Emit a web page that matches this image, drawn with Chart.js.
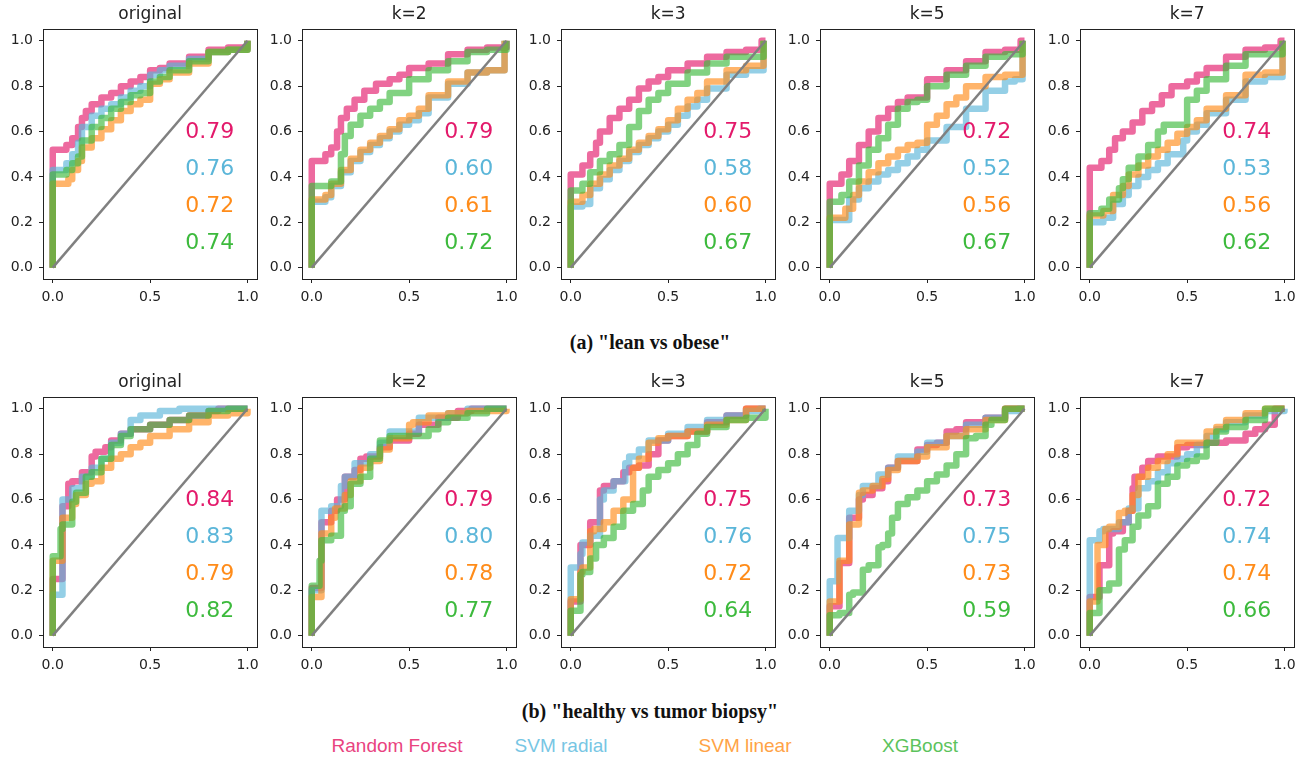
<!DOCTYPE html>
<html>
<head>
<meta charset="utf-8">
<title>ROC curves</title>
<script src="https://cdn.jsdelivr.net/npm/chart.js@4/dist/chart.umd.min.js"></script>
<style>
  body { margin: 0; background: #fff; }
  #page { position: relative; width: 1307px; height: 763px; overflow: hidden; }
  #page canvas { position: absolute; }
  .caption {
    position: absolute; left: 0; width: 1300px; text-align: center;
    font-family: "Liberation Serif", serif; font-weight: bold; font-size: 20px;
    line-height: 24px; color: #111;
  }
  .legend-item {
    position: absolute; top: 735px; transform: translateX(-50%);
    font-family: "Liberation Sans", Arial, sans-serif; font-size: 19px; line-height: 22px;
    white-space: nowrap;
  }
</style>
</head>
<body>
<div id="page">
  <div class="caption" style="top:330px">(a) "lean vs obese"</div>
  <div class="caption" style="top:699px">(b) "healthy vs tumor biopsy"</div>
</div>
<script>
// ---- labels ----
const panelTitles = ['original', 'k=2', 'k=3', 'k=5', 'k=7'];
const seriesNames = ['Random Forest', 'SVM radial', 'SVM linear', 'XGBoost'];
const xTicks = [0, 0.5, 1];
const yTicks = [0, 0.2, 0.4, 0.6, 0.8, 1];
const chanceLine = [[0, 0], [1, 1]];

// ---- AUC values, order: RF, SVM radial, SVM linear, XGBoost ----
const aucLeanOrig = [0.79, 0.76, 0.72, 0.74];
const aucLeanK2 = [0.79, 0.60, 0.61, 0.72];
const aucLeanK3 = [0.75, 0.58, 0.60, 0.67];
const aucLeanK5 = [0.72, 0.52, 0.56, 0.67];
const aucLeanK7 = [0.74, 0.53, 0.56, 0.62];
const aucHealthyOrig = [0.84, 0.83, 0.79, 0.82];
const aucHealthyK2 = [0.79, 0.80, 0.78, 0.77];
const aucHealthyK3 = [0.75, 0.76, 0.72, 0.64];
const aucHealthyK5 = [0.73, 0.75, 0.73, 0.59];
const aucHealthyK7 = [0.72, 0.74, 0.74, 0.66];

// ---- ROC points [fpr, tpr], lean vs obese ----
const leanOrigRF = [[0,0],[0,0.52],[0.07,0.52],[0.1,0.54],[0.13,0.57],[0.15,0.62],[0.17,0.66],[0.2,0.69],[0.25,0.72],[0.3,0.75],[0.35,0.77],[0.4,0.8],[0.45,0.82],[0.5,0.84],[0.5,0.86],[0.55,0.87],[0.6,0.88],[0.7,0.9],[0.8,0.93],[0.9,0.96],[1,0.97],[1,1]];
const leanOrigSVMr = [[0,0],[0,0.43],[0.07,0.43],[0.1,0.46],[0.13,0.5],[0.15,0.55],[0.2,0.62],[0.25,0.67],[0.3,0.7],[0.35,0.72],[0.4,0.75],[0.45,0.78],[0.5,0.8],[0.5,0.83],[0.55,0.85],[0.6,0.87],[0.7,0.89],[0.8,0.92],[0.9,0.95],[1,0.96],[1,1]];
const leanOrigSVMl = [[0,0],[0,0.37],[0.08,0.37],[0.1,0.39],[0.13,0.43],[0.15,0.47],[0.2,0.53],[0.25,0.57],[0.3,0.61],[0.35,0.65],[0.4,0.69],[0.45,0.72],[0.5,0.74],[0.5,0.79],[0.55,0.81],[0.6,0.83],[0.7,0.86],[0.8,0.9],[0.9,0.95],[1,0.96],[1,1]];
const leanOrigXGB = [[0,0],[0,0.41],[0.07,0.41],[0.1,0.43],[0.13,0.46],[0.15,0.49],[0.2,0.56],[0.25,0.62],[0.3,0.66],[0.35,0.7],[0.4,0.73],[0.45,0.76],[0.5,0.77],[0.5,0.81],[0.55,0.82],[0.6,0.84],[0.7,0.87],[0.8,0.91],[0.9,0.95],[1,0.96],[1,1]];

const leanK2RF = [[0,0],[0,0.47],[0.07,0.47],[0.1,0.5],[0.13,0.53],[0.15,0.6],[0.18,0.66],[0.22,0.7],[0.27,0.74],[0.33,0.78],[0.4,0.81],[0.45,0.83],[0.5,0.85],[0.6,0.88],[0.7,0.9],[0.8,0.94],[0.9,0.96],[1,0.97],[1,1]];
const leanK2SVMr = [[0,0],[0,0.29],[0.07,0.29],[0.1,0.31],[0.15,0.36],[0.2,0.42],[0.25,0.47],[0.3,0.51],[0.35,0.54],[0.4,0.57],[0.45,0.6],[0.5,0.63],[0.55,0.65],[0.6,0.68],[0.7,0.75],[0.8,0.81],[0.9,0.86],[0.99,0.87],[0.99,1]];
const leanK2SVMl = [[0,0],[0,0.3],[0.07,0.3],[0.1,0.32],[0.15,0.37],[0.2,0.43],[0.25,0.48],[0.3,0.52],[0.35,0.55],[0.4,0.58],[0.45,0.61],[0.5,0.65],[0.55,0.67],[0.6,0.7],[0.7,0.76],[0.8,0.82],[0.9,0.86],[0.99,0.87],[0.99,1]];
const leanK2XGB = [[0,0],[0,0.36],[0.1,0.36],[0.15,0.38],[0.17,0.5],[0.2,0.58],[0.25,0.63],[0.3,0.67],[0.35,0.7],[0.4,0.73],[0.5,0.77],[0.6,0.83],[0.7,0.87],[0.8,0.91],[0.9,0.95],[1,0.96],[1,1]];

const leanK3RF = [[0,0],[0,0.41],[0.06,0.41],[0.1,0.45],[0.13,0.5],[0.15,0.55],[0.2,0.6],[0.25,0.66],[0.3,0.7],[0.35,0.74],[0.4,0.79],[0.45,0.82],[0.5,0.84],[0.6,0.87],[0.7,0.9],[0.8,0.93],[0.9,0.95],[0.98,0.96],[1,1]];
const leanK3SVMr = [[0,0],[0,0.27],[0.06,0.27],[0.1,0.28],[0.15,0.35],[0.2,0.39],[0.25,0.43],[0.3,0.47],[0.35,0.51],[0.4,0.54],[0.45,0.57],[0.5,0.6],[0.55,0.63],[0.6,0.67],[0.65,0.71],[0.7,0.74],[0.8,0.79],[0.9,0.85],[0.99,0.87],[0.99,1]];
const leanK3SVMl = [[0,0],[0,0.29],[0.06,0.29],[0.1,0.32],[0.15,0.37],[0.2,0.41],[0.25,0.45],[0.3,0.48],[0.35,0.52],[0.4,0.55],[0.45,0.58],[0.5,0.61],[0.55,0.65],[0.6,0.7],[0.65,0.74],[0.7,0.77],[0.8,0.82],[0.9,0.87],[0.99,0.89],[0.99,1]];
const leanK3XGB = [[0,0],[0,0.34],[0.06,0.34],[0.1,0.37],[0.15,0.42],[0.2,0.47],[0.25,0.5],[0.3,0.54],[0.35,0.62],[0.4,0.69],[0.45,0.74],[0.5,0.77],[0.6,0.81],[0.7,0.86],[0.8,0.9],[0.9,0.93],[0.99,0.93],[0.99,1]];

const leanK5RF = [[0,0],[0,0.37],[0.06,0.37],[0.1,0.41],[0.15,0.47],[0.2,0.54],[0.25,0.6],[0.3,0.66],[0.35,0.7],[0.4,0.73],[0.45,0.75],[0.5,0.75],[0.5,0.79],[0.6,0.83],[0.7,0.87],[0.8,0.91],[0.9,0.95],[0.98,0.96],[1,1]];
const leanK5SVMr = [[0,0],[0,0.21],[0.1,0.21],[0.15,0.3],[0.2,0.35],[0.25,0.38],[0.3,0.41],[0.35,0.43],[0.4,0.46],[0.45,0.49],[0.5,0.52],[0.6,0.56],[0.7,0.62],[0.8,0.7],[0.9,0.78],[0.95,0.82],[0.99,0.83],[0.99,1]];
const leanK5SVMl = [[0,0],[0,0.22],[0.08,0.22],[0.12,0.26],[0.15,0.32],[0.2,0.38],[0.25,0.42],[0.3,0.46],[0.35,0.49],[0.4,0.52],[0.45,0.54],[0.5,0.55],[0.5,0.6],[0.55,0.63],[0.6,0.67],[0.65,0.72],[0.7,0.75],[0.8,0.8],[0.9,0.84],[0.99,0.85],[0.99,1]];
const leanK5XGB = [[0,0],[0,0.29],[0.06,0.29],[0.1,0.32],[0.15,0.38],[0.2,0.45],[0.25,0.52],[0.3,0.57],[0.35,0.63],[0.4,0.7],[0.45,0.73],[0.5,0.74],[0.5,0.77],[0.6,0.8],[0.7,0.85],[0.8,0.89],[0.9,0.93],[0.99,0.94],[0.99,1]];

const leanK7RF = [[0,0],[0,0.44],[0.06,0.44],[0.1,0.47],[0.13,0.52],[0.17,0.57],[0.22,0.6],[0.27,0.64],[0.32,0.69],[0.37,0.72],[0.42,0.76],[0.5,0.8],[0.55,0.82],[0.6,0.85],[0.7,0.88],[0.8,0.93],[0.9,0.96],[0.98,0.97],[1,1]];
const leanK7SVMr = [[0,0],[0,0.2],[0.07,0.2],[0.12,0.22],[0.17,0.28],[0.2,0.32],[0.25,0.36],[0.3,0.4],[0.35,0.43],[0.4,0.46],[0.48,0.5],[0.5,0.56],[0.55,0.6],[0.6,0.63],[0.7,0.68],[0.8,0.74],[0.9,0.82],[0.99,0.84],[0.99,1]];
const leanK7SVMl = [[0,0],[0,0.23],[0.07,0.23],[0.12,0.25],[0.17,0.32],[0.2,0.36],[0.25,0.41],[0.3,0.45],[0.35,0.49],[0.4,0.52],[0.45,0.55],[0.5,0.59],[0.55,0.62],[0.6,0.65],[0.7,0.7],[0.8,0.76],[0.9,0.85],[0.99,0.86],[0.99,1]];
const leanK7XGB = [[0,0],[0,0.24],[0.06,0.24],[0.1,0.26],[0.15,0.3],[0.17,0.35],[0.2,0.39],[0.25,0.44],[0.3,0.49],[0.35,0.54],[0.38,0.6],[0.45,0.63],[0.5,0.63],[0.5,0.7],[0.55,0.74],[0.6,0.78],[0.7,0.83],[0.8,0.89],[0.9,0.94],[0.99,0.94],[0.99,1]];

// ---- ROC points [fpr, tpr], healthy vs tumor biopsy ----
const healthyOrigRF = [[0,0],[0,0.25],[0.05,0.25],[0.05,0.54],[0.08,0.57],[0.1,0.67],[0.15,0.68],[0.2,0.72],[0.22,0.79],[0.27,0.81],[0.3,0.83],[0.35,0.86],[0.4,0.89],[0.5,0.91],[0.6,0.93],[0.7,0.95],[0.8,0.97],[0.85,0.99],[1,1]];
const healthyOrigSVMr = [[0,0],[0,0.18],[0.05,0.18],[0.05,0.5],[0.1,0.6],[0.15,0.65],[0.2,0.7],[0.25,0.74],[0.3,0.78],[0.35,0.85],[0.4,0.89],[0.45,0.95],[0.55,0.97],[0.65,0.99],[1,1]];
const healthyOrigSVMl = [[0,0],[0,0.33],[0.05,0.33],[0.05,0.48],[0.1,0.52],[0.12,0.58],[0.17,0.62],[0.2,0.67],[0.25,0.68],[0.3,0.74],[0.35,0.78],[0.4,0.8],[0.45,0.83],[0.5,0.85],[0.6,0.88],[0.7,0.91],[0.8,0.94],[0.9,0.97],[1,0.98],[1,1]];
const healthyOrigXGB = [[0,0],[0,0.35],[0.04,0.35],[0.05,0.47],[0.1,0.49],[0.12,0.59],[0.17,0.63],[0.2,0.7],[0.25,0.72],[0.3,0.78],[0.35,0.84],[0.4,0.88],[0.5,0.91],[0.6,0.93],[0.7,0.95],[0.8,0.97],[0.9,0.99],[1,1]];

const healthyK2RF = [[0,0],[0,0.21],[0.05,0.21],[0.05,0.4],[0.1,0.5],[0.13,0.55],[0.17,0.6],[0.17,0.68],[0.22,0.7],[0.25,0.73],[0.28,0.78],[0.35,0.79],[0.4,0.83],[0.5,0.86],[0.55,0.89],[0.65,0.93],[0.75,0.96],[0.82,0.99],[1,1]];
const healthyK2SVMr = [[0,0],[0,0.2],[0.05,0.2],[0.05,0.48],[0.1,0.55],[0.15,0.57],[0.17,0.66],[0.22,0.7],[0.3,0.76],[0.35,0.8],[0.4,0.85],[0.47,0.9],[0.55,0.9],[0.7,0.96],[0.8,0.98],[1,1]];
const healthyK2SVMl = [[0,0],[0,0.17],[0.05,0.17],[0.05,0.36],[0.1,0.45],[0.12,0.52],[0.17,0.56],[0.2,0.62],[0.25,0.68],[0.3,0.74],[0.35,0.77],[0.4,0.82],[0.5,0.87],[0.52,0.93],[0.6,0.94],[0.7,0.97],[0.8,0.98],[1,0.99],[1,1]];
const healthyK2XGB = [[0,0],[0,0.22],[0.04,0.22],[0.05,0.33],[0.1,0.42],[0.15,0.44],[0.17,0.55],[0.2,0.57],[0.25,0.67],[0.3,0.7],[0.35,0.78],[0.4,0.86],[0.5,0.88],[0.6,0.88],[0.65,0.91],[0.7,0.94],[0.8,0.96],[0.9,0.98],[1,1]];

const healthyK3RF = [[0,0],[0,0.15],[0.05,0.15],[0.05,0.39],[0.1,0.4],[0.1,0.5],[0.15,0.5],[0.17,0.64],[0.22,0.66],[0.27,0.68],[0.3,0.72],[0.35,0.74],[0.4,0.75],[0.45,0.8],[0.5,0.86],[0.6,0.88],[0.7,0.9],[0.8,0.94],[0.9,0.97],[1,1]];
const healthyK3SVMr = [[0,0],[0,0.3],[0.05,0.3],[0.06,0.36],[0.1,0.41],[0.15,0.44],[0.17,0.6],[0.22,0.64],[0.28,0.68],[0.3,0.76],[0.35,0.79],[0.4,0.82],[0.5,0.86],[0.6,0.89],[0.7,0.92],[0.8,0.95],[0.9,0.97],[0.97,0.99],[1,1]];
const healthyK3SVMl = [[0,0],[0,0.16],[0.05,0.16],[0.06,0.28],[0.1,0.3],[0.12,0.46],[0.17,0.47],[0.22,0.5],[0.27,0.55],[0.32,0.6],[0.35,0.74],[0.4,0.78],[0.45,0.85],[0.5,0.87],[0.6,0.88],[0.7,0.9],[0.8,0.93],[0.9,0.95],[1,1]];
const healthyK3XGB = [[0,0],[0,0.11],[0.05,0.11],[0.06,0.27],[0.1,0.28],[0.13,0.34],[0.17,0.4],[0.22,0.43],[0.27,0.48],[0.32,0.55],[0.37,0.58],[0.4,0.64],[0.45,0.7],[0.5,0.73],[0.55,0.76],[0.6,0.8],[0.65,0.84],[0.7,0.89],[0.8,0.92],[0.9,0.95],[1,0.96],[1,1]];

const healthyK5RF = [[0,0],[0,0.13],[0.05,0.13],[0.05,0.32],[0.1,0.32],[0.11,0.52],[0.15,0.52],[0.17,0.6],[0.22,0.62],[0.27,0.65],[0.3,0.68],[0.35,0.74],[0.45,0.77],[0.5,0.82],[0.55,0.84],[0.6,0.85],[0.65,0.9],[0.7,0.91],[0.8,0.94],[0.9,0.96],[1,1]];
const healthyK5SVMr = [[0,0],[0,0.24],[0.04,0.24],[0.05,0.43],[0.1,0.43],[0.11,0.55],[0.15,0.55],[0.17,0.62],[0.25,0.66],[0.3,0.71],[0.35,0.74],[0.45,0.79],[0.5,0.81],[0.6,0.85],[0.7,0.88],[0.8,0.93],[0.9,0.96],[0.97,0.99],[1,1]];
const healthyK5SVMl = [[0,0],[0,0.15],[0.05,0.15],[0.05,0.33],[0.1,0.33],[0.11,0.49],[0.15,0.49],[0.17,0.63],[0.22,0.64],[0.27,0.66],[0.3,0.69],[0.35,0.73],[0.45,0.77],[0.5,0.79],[0.6,0.83],[0.7,0.88],[0.8,0.91],[0.9,0.95],[1,1]];
const healthyK5XGB = [[0,0],[0,0.09],[0.05,0.09],[0.1,0.1],[0.12,0.18],[0.17,0.19],[0.2,0.29],[0.25,0.31],[0.27,0.39],[0.3,0.4],[0.32,0.45],[0.35,0.52],[0.4,0.58],[0.45,0.61],[0.5,0.64],[0.55,0.68],[0.6,0.71],[0.65,0.75],[0.7,0.8],[0.75,0.87],[0.8,0.88],[0.83,0.93],[0.9,0.95],[1,1]];

const healthyK7RF = [[0,0],[0,0.17],[0.05,0.17],[0.06,0.31],[0.1,0.31],[0.12,0.45],[0.17,0.46],[0.2,0.5],[0.22,0.55],[0.23,0.65],[0.27,0.7],[0.3,0.74],[0.35,0.77],[0.45,0.79],[0.5,0.83],[0.6,0.84],[0.7,0.85],[0.8,0.86],[0.85,0.89],[0.9,0.91],[0.95,0.93],[1,1]];
const healthyK7SVMr = [[0,0],[0,0.42],[0.05,0.42],[0.07,0.46],[0.15,0.47],[0.2,0.5],[0.25,0.56],[0.3,0.65],[0.35,0.68],[0.4,0.72],[0.45,0.76],[0.5,0.78],[0.55,0.8],[0.6,0.84],[0.65,0.88],[0.7,0.91],[0.8,0.94],[0.9,0.97],[1,0.99],[1,1]];
const healthyK7SVMl = [[0,0],[0,0.15],[0.04,0.15],[0.05,0.4],[0.08,0.4],[0.1,0.47],[0.15,0.48],[0.18,0.54],[0.22,0.55],[0.25,0.62],[0.3,0.7],[0.35,0.74],[0.4,0.77],[0.45,0.8],[0.5,0.85],[0.6,0.85],[0.65,0.9],[0.7,0.92],[0.8,0.95],[0.9,0.98],[1,1]];
const healthyK7XGB = [[0,0],[0,0.1],[0.05,0.1],[0.06,0.2],[0.1,0.2],[0.15,0.23],[0.18,0.38],[0.22,0.42],[0.25,0.48],[0.3,0.53],[0.35,0.57],[0.4,0.67],[0.45,0.7],[0.5,0.75],[0.55,0.77],[0.6,0.79],[0.65,0.85],[0.7,0.9],[0.8,0.92],[0.9,0.95],[1,1]];

// ---- styling ----
const textColors = ['#e31a6b', '#5bb6d9', '#ff8c1a', '#3dba3d'];
const lineColors = ['rgba(227,26,107,0.65)', 'rgba(91,182,217,0.65)', 'rgba(255,140,26,0.65)', 'rgba(61,186,61,0.65)'];
const legendColors = ['#e9437f', '#77c6e4', '#ffa346', '#5cc35c'];
const legendCenters = [397, 561, 745, 920];

// plot box geometry (pixels on the page)
const boxLeft0 = 42.5, boxStep = 259.25, boxW = 215.6, boxH = 249.7;
const rowTops = [29.7, 397.7];
const yAxisW = 42, xAxisH = 28, padRight = 6;
const titlePad = { top: 3, bottom: 5 };
const titleSize = 17;
const titleH = titlePad.top + titleSize * 1.2 + titlePad.bottom;

const panels = [
  { row: 0, curves: [leanOrigRF, leanOrigSVMr, leanOrigSVMl, leanOrigXGB], auc: aucLeanOrig },
  { row: 0, curves: [leanK2RF, leanK2SVMr, leanK2SVMl, leanK2XGB], auc: aucLeanK2 },
  { row: 0, curves: [leanK3RF, leanK3SVMr, leanK3SVMl, leanK3XGB], auc: aucLeanK3 },
  { row: 0, curves: [leanK5RF, leanK5SVMr, leanK5SVMl, leanK5XGB], auc: aucLeanK5 },
  { row: 0, curves: [leanK7RF, leanK7SVMr, leanK7SVMl, leanK7XGB], auc: aucLeanK7 },
  { row: 1, curves: [healthyOrigRF, healthyOrigSVMr, healthyOrigSVMl, healthyOrigXGB], auc: aucHealthyOrig },
  { row: 1, curves: [healthyK2RF, healthyK2SVMr, healthyK2SVMl, healthyK2XGB], auc: aucHealthyK2 },
  { row: 1, curves: [healthyK3RF, healthyK3SVMr, healthyK3SVMl, healthyK3XGB], auc: aucHealthyK3 },
  { row: 1, curves: [healthyK5RF, healthyK5SVMr, healthyK5SVMl, healthyK5XGB], auc: aucHealthyK5 },
  { row: 1, curves: [healthyK7RF, healthyK7SVMr, healthyK7SVMl, healthyK7XGB], auc: aucHealthyK7 },
];

Chart.defaults.font.family = '"DejaVu Sans", sans-serif';
Chart.defaults.color = '#222';

// Black frame around the plotting area (all four spines)
const framePlugin = {
  id: 'frame',
  afterDraw(chart) {
    const { ctx, chartArea: a } = chart;
    ctx.save();
    ctx.strokeStyle = '#222';
    ctx.lineWidth = 1;
    ctx.strokeRect(Math.round(a.left) + 0.5, Math.round(a.top) + 0.5,
      Math.round(a.right - a.left), Math.round(a.bottom - a.top));
    ctx.restore();
  }
};

// AUC numbers stacked on the right side of each plot
const aucPlugin = {
  id: 'aucLabels',
  afterDatasetsDraw(chart, args, opts) {
    const { ctx, scales } = chart;
    const rows = [0.595, 0.433, 0.271, 0.109];
    ctx.save();
    ctx.font = '22px "DejaVu Sans", sans-serif';
    ctx.textAlign = 'left';
    ctx.textBaseline = 'middle';
    opts.values.forEach((v, i) => {
      ctx.fillStyle = textColors[i];
      ctx.fillText(v.toFixed(2), scales.x.getPixelForValue(0.68), scales.y.getPixelForValue(rows[i]));
    });
    ctx.restore();
  }
};

const toXY = pts => pts.map(([x, y]) => ({ x, y }));

function axisTicks(values) {
  return axis => { axis.ticks = values.map(v => ({ value: v })); };
}

const page = document.getElementById('page');

panels.forEach((p, idx) => {
  const col = idx % 5;
  const boxLeft = boxLeft0 + col * boxStep;
  const canvas = document.createElement('canvas');
  const w = Math.round(yAxisW + boxW + padRight);
  const h = Math.round(titleH + boxH + xAxisH);
  canvas.width = w;
  canvas.height = h;
  canvas.style.left = Math.round(boxLeft - yAxisW) + 'px';
  canvas.style.top = Math.round(rowTops[p.row] - titleH) + 'px';
  page.appendChild(canvas);

  const datasets = p.curves.map((pts, i) => ({
    label: seriesNames[i],
    data: toXY(pts),
    borderColor: lineColors[i],
    borderWidth: 6.5,
    borderJoinStyle: 'round',
    stepped: 'after',
    pointRadius: 0,
    fill: false,
    order: 4 - i,
  }));
  datasets.push({
    label: 'chance',
    data: toXY(chanceLine),
    borderColor: '#808080',
    borderWidth: 2.5,
    pointRadius: 0,
    fill: false,
    order: 0,
  });

  new Chart(canvas, {
    type: 'line',
    data: { datasets },
    options: {
      responsive: false,
      animation: false,
      layout: { padding: { left: 0, right: padRight, top: 0, bottom: 0 } },
      scales: {
        x: {
          type: 'linear',
          min: -0.05,
          max: 1.05,
          afterBuildTicks: axisTicks(xTicks),
          afterFit: s => { s.height = xAxisH; },
          grid: { drawOnChartArea: false, drawTicks: true, tickLength: 4, color: '#222' },
          border: { display: false },
          ticks: { padding: 6, font: { size: 14 }, color: '#222', maxRotation: 0,
            callback: v => v.toFixed(1) },
        },
        y: {
          type: 'linear',
          min: -0.05,
          max: 1.05,
          afterBuildTicks: axisTicks(yTicks),
          afterFit: s => { s.width = yAxisW; },
          grid: { drawOnChartArea: false, drawTicks: true, tickLength: 4, color: '#222' },
          border: { display: false },
          ticks: { padding: 6, font: { size: 14 }, color: '#222',
            callback: v => v.toFixed(1) },
        },
      },
      plugins: {
        legend: { display: false },
        tooltip: { enabled: false },
        title: {
          display: true,
          fullSize: false,
          text: panelTitles[col],
          color: '#222',
          font: { size: titleSize, weight: 'normal' },
          padding: titlePad,
        },
        aucLabels: { values: p.auc },
      },
    },
    plugins: [framePlugin, aucPlugin],
  });
});

// Shared legend under both rows
seriesNames.forEach((name, i) => {
  const item = document.createElement('div');
  item.className = 'legend-item';
  item.style.left = legendCenters[i] + 'px';
  item.style.color = legendColors[i];
  item.textContent = name;
  page.appendChild(item);
});
</script>
</body>
</html>
